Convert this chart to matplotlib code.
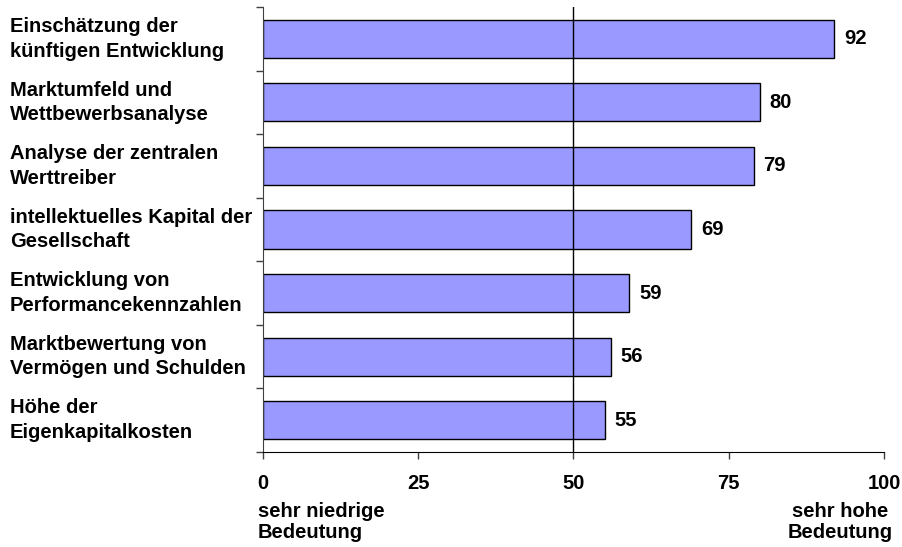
import numpy as np
import matplotlib
matplotlib.use("Agg")
import matplotlib.pyplot as plt
import matplotlib.transforms as mtransforms

plt.rcParams["font.family"] = ["Liberation Sans", "DejaVu Sans"]
plt.rcParams["font.weight"] = "bold"

# Kategorien von oben nach unten
categories = [
    "Einschätzung der\nkünftigen Entwicklung",
    "Marktumfeld und\nWettbewerbsanalyse",
    "Analyse der zentralen\nWerttreiber",
    "intellektuelles Kapital der\nGesellschaft",
    "Entwicklung von\nPerformancekennzahlen",
    "Marktbewertung von\nVermögen und Schulden",
    "Höhe der\nEigenkapitalkosten",
]
values = [92, 80, 79, 69, 59, 56, 55]
x_ticks = [0, 25, 50, 75, 100]
low_label = "sehr niedrige\nBedeutung"
high_label = "sehr hohe\nBedeutung"

bar_color = "#9999FF"
fs = 14.5

fig = plt.figure(figsize=(9.03, 5.47), dpi=100)
ax = fig.add_axes([263 / 903, 1 - 452 / 547, (884 - 263) / 903, (452 - 7) / 547])

y = np.arange(len(categories))
ax.barh(y, values, height=0.6, color=bar_color, edgecolor="black", linewidth=1, zorder=2)

# Mittellinie bei 50
ax.axvline(50, color="black", linewidth=1, zorder=3)

ax.set_xlim(0, 100)
ax.set_ylim(len(categories) - 0.5, -0.5)

# Werte neben den Balken
for yi, v in zip(y, values):
    ax.annotate(str(v), (v, yi), xytext=(10, 0), textcoords="offset pixels",
                ha="left", va="center", fontsize=fs, fontweight="bold")

# Kategorienamen linksbündig am Bildrand
trans = mtransforms.blended_transform_factory(fig.transFigure, ax.transData)
for yi, name in zip(y, categories):
    ax.text(10 / 903, yi, name, transform=trans, ha="left", va="center",
            fontsize=fs, fontweight="bold", linespacing=1.38)

# y-Ticks an den Grenzen zwischen den Kategorien
ax.set_yticks(np.arange(-0.5, len(categories), 1.0))
ax.set_yticklabels([])
ax.tick_params(axis="y", direction="out", length=5, width=1, color="#404040")

ax.set_xticks(x_ticks)
ax.set_xticklabels([str(t) for t in x_ticks], fontsize=fs, fontweight="bold")
ax.tick_params(axis="x", direction="out", length=5, width=1, pad=11, color="#404040")

for side in ["top", "right"]:
    ax.spines[side].set_visible(False)
ax.spines["left"].set_color("#404040")
ax.spines["bottom"].set_color("black")

# Beschriftung der Skalenenden
ax.annotate(low_label, (0, 0), xycoords="axes fraction", xytext=(-5, -50),
            textcoords="offset pixels", ha="left", va="top",
            fontsize=fs, fontweight="bold", linespacing=1.12)
ax.annotate(high_label, (1, 0), xycoords="axes fraction", xytext=(9, -50),
            textcoords="offset pixels", ha="right", va="top", multialignment="center",
            fontsize=fs, fontweight="bold", linespacing=1.12)

fig.savefig("out.png", dpi=100)
